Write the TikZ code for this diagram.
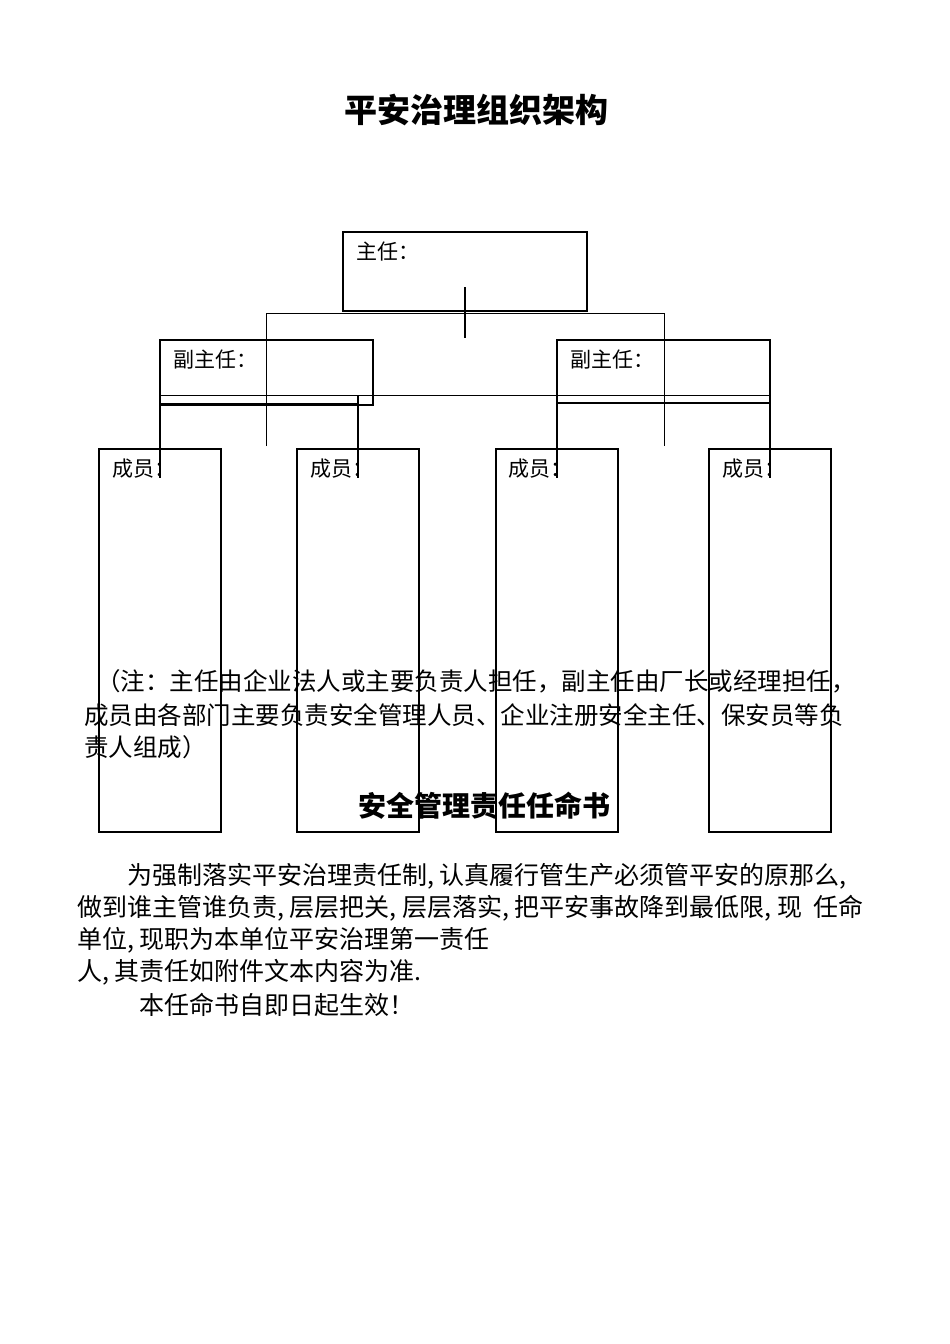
\documentclass[tikz,border=0pt]{standalone}
\usepackage{fontspec}
\setmainfont{Noto Sans CJK SC}
\begin{document}
\begin{tikzpicture}[x=1pt,y=-1pt,
  box/.style={draw,line width=1.4pt},
  thin/.style={line width=0.9pt},
  lbl/.style={anchor=west,inner sep=1pt,font=\fontsize{21}{23}\selectfont},
  txt/.style={anchor=west,inner sep=0pt,font=\fontsize{24.5}{26}\selectfont},
  body/.style={anchor=west,inner sep=0pt,font=\fontsize{25}{27}\selectfont}]
\useasboundingbox (0,0) rectangle (950,1344);
% boxes
\draw[box] (343,232) rectangle (587,311);
\draw[box] (160,340) rectangle (373,405);
\draw[box] (557,340) rectangle (770,403);
\foreach \x/\n in {99/m1,297/m2,496/m3,709/m4}{
  \draw[box] (\x,449) rectangle (\x+122,832);
}
% connectors
\coordinate (c1) at (465,287);
\coordinate (c2) at (465,338);
\draw[line width=2pt] (c1) -- (c2);
\draw[thin] (266,446) -- (266,313) -- (664,313) -- (664,446);
\draw[thin] (160,395) -- (770,395);
\draw[thin] (160,403) -- (358,403);
\draw[thin] (557,403) -- (770,403);
\foreach \x in {160,358,557,770}{\draw[line width=1.2pt] (\x,395) -- (\x,478);}
% labels
\node[lbl] (l0) at (355,252) {主任：};
\node[lbl,fill=white] (l1) at (172,360) {副主任：};
\node[lbl,fill=white] (l2) at (569,360) {副主任：};
\foreach \x/\n in {111/a,309/b,507/c,721/d}{\node[lbl] (\n) at (\x,469) {成员：};}
% title
\node[font=\fontsize{33}{36}\selectfont\bfseries] (title) at (476,110) {平安治理组织架构};
% note
\node[txt] (n1) at (96,681) {（注：主任由企业法人或主要负责人担任，副主任由厂长或经理担任，};
\node[txt] (n2) at (84,715) {成员由各部门主要负责安全管理人员、企业注册安全主任、保安员等负};
\node[txt] (n3) at (84,747) {责人组成）};
\node[font=\fontsize{28}{30}\selectfont\bfseries] (h2) at (484,806) {安全管理责任任命书};
% body
\node[body] (b1) at (127,876) {为强制落实平安治理责任制, 认真履行管生产必须管平安的原那么,};
\node[body] (b2) at (77,908) {做到谁主管谁负责, 层层把关, 层层落实, 把平安事故降到最低限, 现\ \ 任命};
\node[body] (b3) at (77,940) {单位, 现职为本单位平安治理第一责任};
\node[body] (b4) at (77,972) {人, 其责任如附件文本内容为准.};
\node[body] (b5) at (139,1005) {本任命书自即日起生效！};
\end{tikzpicture}
\end{document}
